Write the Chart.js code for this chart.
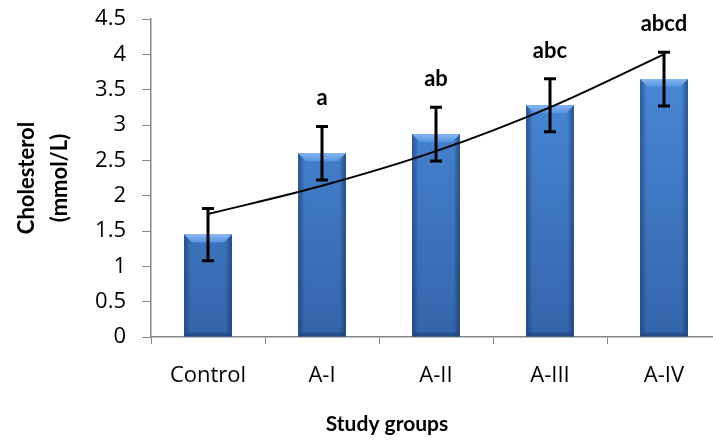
<!DOCTYPE html>
<html>
<head>
<meta charset="utf-8">
<script src="https://cdn.jsdelivr.net/npm/chart.js@4.4.0/dist/chart.umd.min.js"></script>
<style>
  html, body { margin: 0; padding: 0; background: #fff; overflow: hidden; }
  #wrap { width: 713px; height: 442px; overflow: hidden; }
</style>
</head>
<body>
<div id="wrap"><canvas id="myChart" width="774" height="442"></canvas></div>
<script>
// data
const groups = ['Control', 'A-I', 'A-II', 'A-III', 'A-IV'];
const cholesterol = [1.45, 2.6, 2.87, 3.28, 3.65];
const sdErr = [0.37, 0.38, 0.38, 0.375, 0.38];
const trend = [1.74, 2.14, 2.63, 3.25, 4.0];
const sigLabels = ['', 'a', 'ab', 'abc', 'abcd'];
const yTicks = [0, 0.5, 1, 1.5, 2, 2.5, 3, 3.5, 4, 4.5];

const TICK_FONT = '"Open Sans", sans-serif';
const BOLD_FONT = 'Lato, "Open Sans", sans-serif';

// bar fill: brighter at top, darker toward the base
function barFill(context) {
    const chart = context.chart;
    if (!chart.chartArea) return '#3f77c0';
    const a = chart.chartArea;
    const g = chart.ctx.createLinearGradient(0, a.top + 50, 0, a.bottom);
    g.addColorStop(0, '#4a88d6');
    g.addColorStop(1, '#3465ab');
    return g;
}

const extras = {
    id: 'extras',
    // bevel on the bars, drawn before the trend line goes on top
    afterDatasetDraw(chart, args) {
        if (args.index !== 1) return;
        const ctx = chart.ctx;
        args.meta.data.forEach((b) => {
            const l = b.x - b.width / 2, r = b.x + b.width / 2, t = b.y, bot = b.base;
            const bev = 8;
            ctx.save();
            // darker side edges
            let g = ctx.createLinearGradient(l, 0, r, 0);
            g.addColorStop(0, 'rgba(20,45,90,0.55)');
            g.addColorStop(0.14, 'rgba(20,45,90,0)');
            g.addColorStop(0.86, 'rgba(20,45,90,0)');
            g.addColorStop(1, 'rgba(20,45,90,0.6)');
            ctx.fillStyle = g;
            ctx.fillRect(l, t, r - l, bot - t);
            // light top bevel
            g = ctx.createLinearGradient(0, t, 0, t + bev);
            g.addColorStop(0, '#86b6f4');
            g.addColorStop(1, '#5592dc');
            ctx.fillStyle = g;
            ctx.beginPath();
            ctx.moveTo(l, t);
            ctx.lineTo(r, t);
            ctx.lineTo(r - bev, t + bev);
            ctx.lineTo(l + bev, t + bev);
            ctx.closePath();
            ctx.fill();
            // dark bottom bevel
            ctx.fillStyle = 'rgba(25,55,105,0.45)';
            ctx.beginPath();
            ctx.moveTo(l, bot);
            ctx.lineTo(r, bot);
            ctx.lineTo(r - 4, bot - 4);
            ctx.lineTo(l + 4, bot - 4);
            ctx.closePath();
            ctx.fill();
            ctx.restore();
        });
    },
    afterDatasetsDraw(chart) {
        const ctx = chart.ctx;
        const xs = chart.scales.x;
        const ys = chart.scales.y;

        // error bars
        ctx.save();
        ctx.strokeStyle = '#000';
        ctx.lineWidth = 3;
        cholesterol.forEach((v, i) => {
            const x = xs.getPixelForValue(i);
            const yt = ys.getPixelForValue(v + sdErr[i]);
            const yb = ys.getPixelForValue(v - sdErr[i]);
            ctx.beginPath();
            ctx.moveTo(x, yt); ctx.lineTo(x, yb);
            ctx.moveTo(x - 6, yt); ctx.lineTo(x + 6, yt);
            ctx.moveTo(x - 6, yb); ctx.lineTo(x + 6, yb);
            ctx.stroke();
        });
        ctx.restore();

        // significance letters
        ctx.save();
        ctx.fillStyle = '#000';
        ctx.font = 'bold 22px ' + BOLD_FONT;
        ctx.textAlign = 'center';
        ctx.textBaseline = 'alphabetic';
        sigLabels.forEach((s, i) => {
            if (!s) return;
            const x = xs.getPixelForValue(i);
            const yt = ys.getPixelForValue(cholesterol[i] + sdErr[i]);
            ctx.fillText(s, x, yt - 21);
        });

        // x axis title, centred on the full (uncropped) chart
        ctx.font = 'bold 21px ' + BOLD_FONT;
        ctx.textBaseline = 'middle';
        ctx.fillText('Study groups', chart.width / 2, 424);
        ctx.restore();
    }
};

const config = {
    data: {
        labels: groups,
        datasets: [{
            type: 'line',
            label: 'Trend',
            data: trend,
            borderColor: '#000',
            borderWidth: 2,
            pointRadius: 0,
            tension: 0.4,
            cubicInterpolationMode: 'monotone',
            fill: false,
            order: 0
        }, {
            type: 'bar',
            label: 'Cholesterol',
            data: cholesterol,
            backgroundColor: barFill,
            borderWidth: 0,
            categoryPercentage: 1,
            barPercentage: 0.42,
            order: 1
        }]
    },
    options: {
        responsive: false,
        animation: false,
        devicePixelRatio: 1,
        layout: { padding: { top: 19, right: 53, left: 0, bottom: 0 } },
        plugins: {
            legend: { display: false },
            tooltip: { enabled: false }
        },
        scales: {
            x: {
                offset: true,
                grid: {
                    offset: true,
                    drawOnChartArea: false,
                    color: '#868686',
                    tickLength: 7
                },
                border: { color: '#868686', width: 1.5 },
                ticks: {
                    color: '#000',
                    padding: 19,
                    font: { family: TICK_FONT, size: 22 }
                },
                afterFit(scale) { scale.height = 105; }
            },
            y: {
                min: 0,
                max: 4.5,
                afterBuildTicks(scale) { scale.ticks = yTicks.map(v => ({ value: v })); },
                grid: {
                    drawOnChartArea: false,
                    color: '#868686',
                    tickLength: 9
                },
                border: { color: '#868686', width: 1.5 },
                ticks: {
                    color: '#000',
                    padding: 16,
                    font: { family: TICK_FONT, size: 22 },
                    callback: (v) => String(v)
                },
                title: {
                    display: true,
                    text: ['Cholesterol', '(mmol/L)'],
                    color: '#000',
                    font: { family: BOLD_FONT, size: 22, weight: 'bold', lineHeight: 1.5 },
                    padding: { top: 10, bottom: 0 }
                },
                afterFit(scale) {
                    scale.width = 151;
                    scale.paddingTop = 0;
                    scale.paddingBottom = 0;
                }
            }
        }
    },
    plugins: [extras]
};

const myChart = new Chart(document.getElementById('myChart'), config);
</script>
</body>
</html>
